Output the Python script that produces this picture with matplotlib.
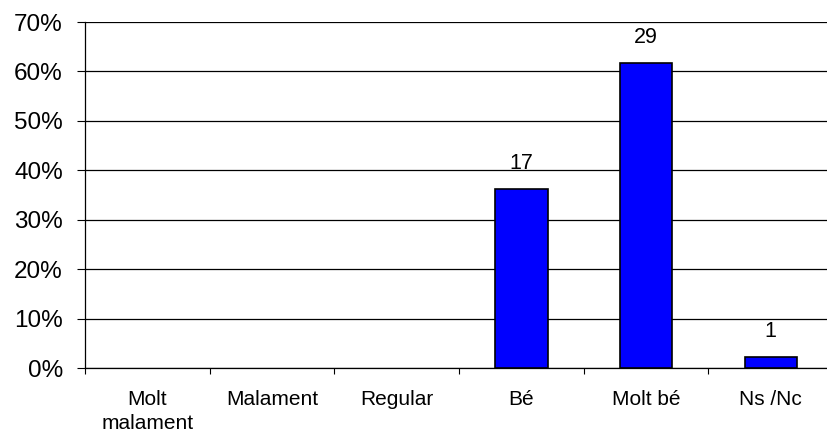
import matplotlib
matplotlib.use('Agg')
import matplotlib.pyplot as plt
from matplotlib.ticker import FixedLocator, PercentFormatter

# chart data
CATEGORIES = ['Molt\nmalament', 'Malament', 'Regular', 'Bé', 'Molt bé', 'Ns /Nc']
COUNTS = [0, 0, 0, 17, 29, 1]
TOTAL = sum(COUNTS)
SHARES = [c / TOTAL * 100 for c in COUNTS]
Y_TICKS = [0, 10, 20, 30, 40, 50, 60, 70]

plt.rcParams['font.family'] = ['Liberation Sans', 'DejaVu Sans']

fig = plt.figure(figsize=(8.27, 4.42), dpi=100)
ax = fig.add_axes([0.1028, 0.1674, 0.9045, 0.7828])

x = list(range(len(CATEGORIES)))
# empty categories get no outline
widths = [1.2 if c else 0 for c in COUNTS]
ax.bar(x, SHARES, width=0.42, color='#0000ff', edgecolor='black', linewidth=widths, zorder=3)

# count labels above non-empty bars
for xi, share, count in zip(x, SHARES, COUNTS):
    if count:
        ax.annotate(str(count), (xi, share), xytext=(0, 11), textcoords='offset points',
                    ha='center', va='bottom', fontsize=15.5)

ax.set_xlim(-0.5, len(CATEGORIES) - 0.5)
ax.set_ylim(0, 70)
ax.yaxis.set_major_locator(FixedLocator(Y_TICKS))
ax.yaxis.set_major_formatter(PercentFormatter(decimals=0))
ax.grid(axis='y', color='black', linewidth=0.9, zorder=1)

ax.set_xticks(x)
ax.set_xticklabels(CATEGORIES, fontsize=15, linespacing=1.35)
ax.set_xticks([i - 0.5 for i in range(len(CATEGORIES) + 1)], minor=True)
ax.tick_params(axis='x', which='major', length=0, pad=16)
ax.tick_params(axis='x', which='minor', length=4, direction='out', width=0.8)
ax.tick_params(axis='y', length=6, width=0.8, labelsize=17.5, pad=10)

for side in ('top', 'right'):
    ax.spines[side].set_visible(False)
ax.spines['left'].set_linewidth(0.9)
ax.spines['bottom'].set_linewidth(0.9)

fig.savefig('out.png', dpi=100)
